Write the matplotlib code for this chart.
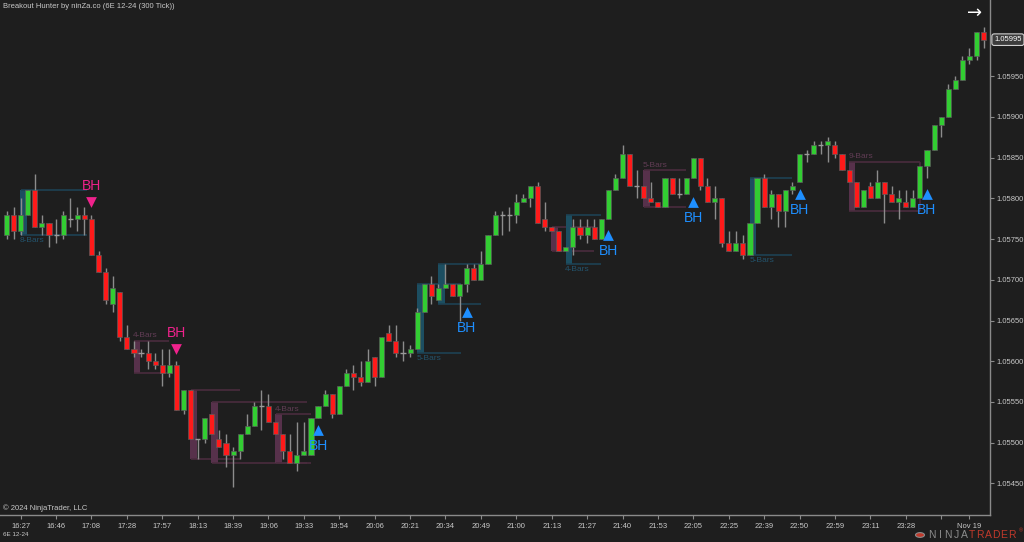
import numpy as np
import matplotlib.pyplot as plt
from matplotlib.patches import Rectangle, Circle

plt.rcParams['font.family'] = ['Liberation Sans', 'DejaVu Sans']

# 6E 12-24, 300 tick bars
opens = [1.05755, 1.05780, 1.05760, 1.05780, 1.05810, 1.05765, 1.05770, 1.05755, 1.05755, 1.05775,
         1.05775, 1.05780, 1.05775, 1.05730, 1.05710, 1.05670, 1.05685, 1.05630, 1.05615, 1.05610,
         1.05610, 1.05600, 1.05595, 1.05585, 1.05595, 1.05540, 1.05565, 1.05505, 1.05505, 1.05535,
         1.05505, 1.05500, 1.05485, 1.05490, 1.05510, 1.05520, 1.05545, 1.05545, 1.05525, 1.05510,
         1.05490, 1.05475, 1.05485, 1.05485, 1.05530, 1.05545, 1.05560, 1.05535, 1.05570, 1.05585,
         1.05580, 1.05575, 1.05605, 1.05580, 1.05635, 1.05625, 1.05610, 1.05610, 1.05615, 1.05660,
         1.05695, 1.05675, 1.05690, 1.05695, 1.05680, 1.05695, 1.05715, 1.05700, 1.05720, 1.05755,
         1.05780, 1.05780, 1.05780, 1.05795, 1.05800, 1.05815, 1.05775, 1.05765, 1.05760, 1.05735,
         1.05740, 1.05765, 1.05755, 1.05765, 1.05750, 1.05775, 1.05810, 1.05825, 1.05855, 1.05815,
         1.05815, 1.05800, 1.05795, 1.05790, 1.05825, 1.05805, 1.05805, 1.05825, 1.05850, 1.05815,
         1.05795, 1.05800, 1.05745, 1.05735, 1.05745, 1.05730, 1.05770, 1.05825, 1.05790, 1.05805,
         1.05785, 1.05810, 1.05820, 1.05855, 1.05855, 1.05865, 1.05865, 1.05865, 1.05855, 1.05835,
         1.05820, 1.05790, 1.05815, 1.05800, 1.05820, 1.05805, 1.05795, 1.05795, 1.05790, 1.05800,
         1.05840, 1.05860, 1.05890, 1.05900, 1.05935, 1.05945, 1.05970, 1.05975, 1.06005]
highs = [1.05785, 1.05790, 1.05800, 1.05810, 1.05830, 1.05780, 1.05770, 1.05775, 1.05785, 1.05800,
         1.05790, 1.05790, 1.05780, 1.05735, 1.05715, 1.05705, 1.05685, 1.05645, 1.05625, 1.05615,
         1.05625, 1.05610, 1.05615, 1.05615, 1.05600, 1.05565, 1.05565, 1.05505, 1.05530, 1.05535,
         1.05515, 1.05510, 1.05495, 1.05510, 1.05535, 1.05550, 1.05565, 1.05560, 1.05525, 1.05510,
         1.05510, 1.05525, 1.05525, 1.05530, 1.05545, 1.05565, 1.05560, 1.05570, 1.05590, 1.05595,
         1.05600, 1.05615, 1.05605, 1.05630, 1.05645, 1.05645, 1.05625, 1.05620, 1.05665, 1.05695,
         1.05705, 1.05695, 1.05720, 1.05695, 1.05695, 1.05720, 1.05720, 1.05735, 1.05755, 1.05785,
         1.05785, 1.05790, 1.05805, 1.05805, 1.05815, 1.05820, 1.05795, 1.05765, 1.05760, 1.05740,
         1.05775, 1.05775, 1.05775, 1.05775, 1.05775, 1.05810, 1.05830, 1.05865, 1.05855, 1.05835,
         1.05815, 1.05820, 1.05795, 1.05825, 1.05825, 1.05825, 1.05825, 1.05850, 1.05850, 1.05825,
         1.05815, 1.05800, 1.05760, 1.05760, 1.05755, 1.05770, 1.05825, 1.05830, 1.05810, 1.05805,
         1.05810, 1.05820, 1.05855, 1.05860, 1.05870, 1.05870, 1.05875, 1.05870, 1.05855, 1.05835,
         1.05820, 1.05810, 1.05820, 1.05835, 1.05820, 1.05815, 1.05810, 1.05810, 1.05810, 1.05840,
         1.05860, 1.05890, 1.05900, 1.05940, 1.05950, 1.05975, 1.05985, 1.06005, 1.06010]
lows = [1.05750, 1.05750, 1.05755, 1.05780, 1.05765, 1.05755, 1.05740, 1.05745, 1.05750, 1.05765,
        1.05760, 1.05755, 1.05730, 1.05710, 1.05670, 1.05660, 1.05625, 1.05615, 1.05605, 1.05605,
        1.05590, 1.05590, 1.05570, 1.05580, 1.05540, 1.05535, 1.05505, 1.05480, 1.05500, 1.05510,
        1.05495, 1.05470, 1.05445, 1.05480, 1.05510, 1.05520, 1.05515, 1.05525, 1.05510, 1.05480,
        1.05475, 1.05465, 1.05485, 1.05485, 1.05530, 1.05545, 1.05530, 1.05535, 1.05570, 1.05565,
        1.05570, 1.05575, 1.05570, 1.05580, 1.05625, 1.05605, 1.05600, 1.05605, 1.05615, 1.05660,
        1.05670, 1.05675, 1.05690, 1.05680, 1.05650, 1.05685, 1.05700, 1.05700, 1.05720, 1.05755,
        1.05755, 1.05760, 1.05770, 1.05795, 1.05790, 1.05770, 1.05760, 1.05760, 1.05735, 1.05735,
        1.05730, 1.05750, 1.05745, 1.05750, 1.05750, 1.05775, 1.05810, 1.05825, 1.05815, 1.05800,
        1.05800, 1.05795, 1.05790, 1.05790, 1.05805, 1.05800, 1.05805, 1.05825, 1.05810, 1.05795,
        1.05775, 1.05740, 1.05735, 1.05735, 1.05725, 1.05730, 1.05770, 1.05790, 1.05775, 1.05765,
        1.05765, 1.05805, 1.05820, 1.05845, 1.05855, 1.05855, 1.05845, 1.05850, 1.05835, 1.05820,
        1.05790, 1.05790, 1.05800, 1.05800, 1.05770, 1.05795, 1.05775, 1.05790, 1.05790, 1.05800,
        1.05825, 1.05860, 1.05875, 1.05900, 1.05935, 1.05945, 1.05965, 1.05970, 1.05985]
closes = [1.05780, 1.05760, 1.05780, 1.05810, 1.05765, 1.05770, 1.05755, 1.05755, 1.05780, 1.05775,
          1.05780, 1.05775, 1.05730, 1.05710, 1.05675, 1.05690, 1.05630, 1.05615, 1.05610, 1.05610,
          1.05600, 1.05595, 1.05585, 1.05595, 1.05540, 1.05565, 1.05505, 1.05505, 1.05530, 1.05510,
          1.05495, 1.05485, 1.05490, 1.05510, 1.05520, 1.05545, 1.05545, 1.05525, 1.05510, 1.05490,
          1.05475, 1.05485, 1.05490, 1.05530, 1.05545, 1.05560, 1.05535, 1.05570, 1.05585, 1.05580,
          1.05575, 1.05600, 1.05580, 1.05630, 1.05625, 1.05610, 1.05610, 1.05615, 1.05660, 1.05695,
          1.05680, 1.05690, 1.05695, 1.05680, 1.05695, 1.05715, 1.05700, 1.05720, 1.05755, 1.05780,
          1.05780, 1.05780, 1.05795, 1.05800, 1.05815, 1.05770, 1.05765, 1.05760, 1.05735, 1.05740,
          1.05765, 1.05755, 1.05765, 1.05750, 1.05775, 1.05810, 1.05825, 1.05855, 1.05815, 1.05815,
          1.05800, 1.05795, 1.05790, 1.05825, 1.05805, 1.05805, 1.05825, 1.05850, 1.05815, 1.05795,
          1.05800, 1.05745, 1.05735, 1.05745, 1.05730, 1.05770, 1.05825, 1.05790, 1.05805, 1.05785,
          1.05810, 1.05815, 1.05855, 1.05855, 1.05865, 1.05865, 1.05870, 1.05855, 1.05835, 1.05820,
          1.05790, 1.05810, 1.05800, 1.05820, 1.05805, 1.05795, 1.05800, 1.05790, 1.05800, 1.05840,
          1.05860, 1.05890, 1.05900, 1.05935, 1.05945, 1.05970, 1.05975, 1.06005, 1.05995]

# breakout boxes
box_start = [2, 18, 26, 29, 38, 58, 61, 77, 79, 90, 105, 119]
box_end = [11.3, 23, 33, 42.5, 43, 64.2, 67, 83, 84, 96, 111, 129]
box_top = [1.05810, 1.05625, 1.05565, 1.05550, 1.05535, 1.05695, 1.05720, 1.05765, 1.05780, 1.05835, 1.05825, 1.05845]
box_bottom = [1.05755, 1.05585, 1.05480, 1.05475, 1.05475, 1.05610, 1.05670, 1.05735, 1.05720, 1.05790, 1.05730, 1.05785]
box_kind = ["up", "dn", "dn", "dn", "dn", "up", "up", "dn", "up", "dn", "up", "dn"]
box_label = ["8-Bars", "4-Bars", "", "", "4-Bars", "5-Bars", "", "", "4-Bars", "5-Bars", "5-Bars", "9-Bars"]

# BH signals
sig_bar = [12, 24, 44, 65, 85, 97, 112, 130]
sig_price = [1.05795, 1.05615, 1.05515, 1.05660, 1.05755, 1.05795, 1.05805, 1.05805]
sig_dir = [-1, -1, 1, 1, 1, 1, 1, 1]

tick_bars = [2, 7, 12, 17, 22, 27, 32, 37, 42, 47, 52, 57, 62, 67, 72, 77, 82, 87, 92, 97,
             102, 107, 112, 117, 122, 127, 132, 136]
tick_labels = ["16:27", "16:46", "17:08", "17:28", "17:57", "18:13", "18:39", "19:06", "19:33", "19:54",
               "20:06", "20:21", "20:34", "20:49", "21:00", "21:13", "21:27", "21:40", "21:53", "22:05",
               "22:25", "22:39", "22:50", "22:59", "23:11", "23:28", "", "Nov 19"]
price_ticks = [1.0545, 1.0550, 1.0555, 1.0560, 1.0565, 1.0570, 1.0575, 1.0580, 1.0585, 1.0590, 1.0595]

bg = "#1e1e1e"
txt = "#c8c8c8"
up_col = "#32cd32"
dn_col = "#ff1a1a"
box_fill = {"up": "#1c4e61", "dn": "#57314b"}
box_line = {"up": "#1d4253", "dn": "#4a2c3e"}
box_text = {"up": "#23536c", "dn": "#603c54"}

W, H = 1024, 542
fig = plt.figure(figsize=(W / 100, H / 100), dpi=100, facecolor=bg)
ax = fig.add_axes([0, 27 / H, 990 / W, 515 / H], facecolor=bg)

x = np.arange(len(opens))
o = np.array(opens)
c = np.array(closes)

# boxes
for s, e, t, b, k, lab in zip(box_start, box_end, box_top, box_bottom, box_kind, box_label):
    ax.add_patch(Rectangle((s - 0.05, b), 0.95, t - b, facecolor=box_fill[k], edgecolor="none", zorder=1))
    ax.hlines([t, b], s, e, colors=box_line[k], lw=1.2, zorder=1)
    if lab:
        if k == "up":
            ax.annotate(lab, (s - 0.1, b), xytext=(0, -1.5), textcoords="offset points",
                        ha="left", va="top", fontsize=6, color=box_text[k])
        else:
            ax.annotate(lab, (s - 0.1, t), xytext=(0, 1), textcoords="offset points",
                        ha="left", va="bottom", fontsize=6, color=box_text[k])
# right edge of the 9 bar box
ax.vlines(box_end[-1], box_bottom[-1], box_top[-1], colors=box_line["dn"], lw=1.2, zorder=1)

# candles
ax.vlines(x, lows, highs, colors="#8c8c8c", lw=1, zorder=2)
body = c - o
cols = [up_col if d > 0 else dn_col for d in body]
mask = body != 0
ax.bar(x[mask], body[mask], bottom=o[mask], width=0.72, color=np.array(cols)[mask],
       edgecolor="#5a5a5a", linewidth=0.5, zorder=3)
ax.hlines(o[~mask], x[~mask] - 0.36, x[~mask] + 0.36, colors="#9a9a9a", lw=1, zorder=3)

# BH signals
for b, p, d in zip(sig_bar, sig_price, sig_dir):
    col = "#1e8fff" if d > 0 else "#f0228c"
    ax.scatter([b], [p], marker="^" if d > 0 else "v", s=60, color=col, zorder=5, linewidths=0)
    ax.annotate("BH", (b, p), xytext=(0, -11.5 * d), textcoords="offset points",
                ha="center", va="center", fontsize=10, color=col, zorder=5)

ax.set_xlim(-0.918, 138.9)
ax.set_ylim(1.0541106, 1.0604373)

for sp in ["top", "left"]:
    ax.spines[sp].set_visible(False)
for sp in ["right", "bottom"]:
    ax.spines[sp].set_color("#8a8a8a")
    ax.spines[sp].set_linewidth(1)
ax.yaxis.tick_right()
ax.set_yticks(price_ticks)
ax.set_yticklabels(["%.5f" % v for v in price_ticks])
ax.set_xticks(tick_bars)
ax.set_xticklabels(tick_labels)
ax.tick_params(axis="both", colors="#8a8a8a", labelcolor=txt, labelsize=5.5, length=3, width=0.8)
ax.tick_params(axis="x", pad=2.5)
ax.tick_params(axis="y", pad=1.5)

# last price marker
ax.annotate("%.5f" % closes[-1], (1.0, closes[-1]), xycoords=("axes fraction", "data"),
            xytext=(3, 0), textcoords="offset points", ha="left", va="center",
            fontsize=5.5, color="white",
            bbox=dict(boxstyle="round,pad=0.3", fc="#3c3c3c", ec="#d0d0d0", lw=0.8))

fig.text(3 / W, 1 - 6 / H, "Breakout Hunter by ninZa.co (6E 12-24 (300 Tick))",
         ha="left", va="center", fontsize=5.5, color=txt)
fig.text(975 / W, 1 - 13 / H, "\u2192", ha="center", va="center", fontsize=13,
         color="white", family="DejaVu Sans")
fig.text(3 / W, 1 - 508 / H, "\u00a9 2024 NinjaTrader, LLC", ha="left", va="center", fontsize=5.5, color=txt)
fig.text(3 / W, 1 - 535 / H, "6E 12-24", ha="left", va="center", fontsize=4.5, color=txt)

# logo
fig.patches.append(Circle((920 / W, 1 - 535 / H), 4.5 / W, transform=fig.transFigure,
                          facecolor="#c0392b", edgecolor="#8c8c8c", lw=0.8))
for j, ch in enumerate("NINJATRADER"):
    fig.text((932 + 8.0 * j) / W, 1 - 535 / H, ch, ha="center", va="center", fontsize=7.5,
             color="#8c8c8c" if j < 5 else "#c0392b")
fig.text(1019 / W, 1 - 531 / H, "\u00ae", ha="left", va="center", fontsize=4, color="#c0392b")

fig.savefig("out.png", dpi=100, facecolor=bg)
